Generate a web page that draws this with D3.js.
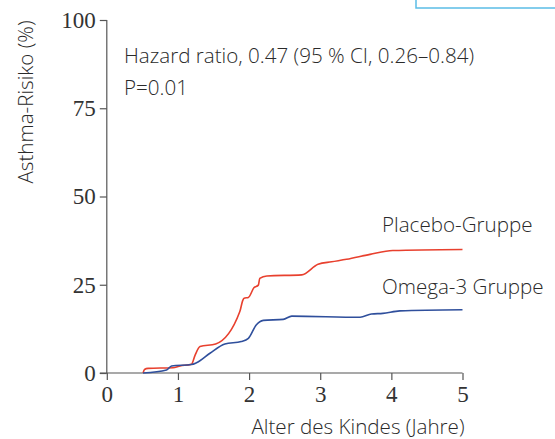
<!DOCTYPE html>
<html><head><meta charset="utf-8">
<script src="https://cdn.jsdelivr.net/npm/d3@7"></script>
<style>
body{margin:0;background:#fff;}
svg{display:block;}
.sans{font-family:"Open Sans","Noto Sans",sans-serif;font-weight:300;fill:#2a2a2a;}
.serif{font-family:"Liberation Serif","DejaVu Serif",serif;fill:#333;}
</style></head>
<body>
<script>
// Data (years, percent)
const placeboT = [0.51,0.53,0.58,0.93,1.03,1.19,1.24,1.31,1.53,1.87,1.91,1.93,1.99,2.07,2.13,2.15,2.25,2.74,2.97,3.16,3.37,3.70,4.02,5.0];
const placeboV = [0,1.0,1.3,1.5,2.0,2.5,5.0,7.5,8.2,17.4,20.5,21.2,21.4,24.2,24.9,26.8,27.5,27.8,30.8,31.5,32.2,33.6,34.7,35.0];
const omegaT = [0.51,0.84,0.91,1.19,1.26,1.45,1.66,1.89,1.99,2.1,2.2,2.48,2.6,3.56,3.72,3.88,4.12,5.0];
const omegaV = [0,0.85,2.0,2.4,2.9,5.6,8.2,8.9,9.8,13.6,14.9,15.2,16.1,15.8,16.7,16.9,17.6,17.9];
const xTicks = [0,1,2,3,4,5];
const yTicks = [0,25,50,75,100];
const seriesNames = ["Placebo-Gruppe","Omega-3 Gruppe"];

const W=555,H=439;
const svg=d3.select("body").append("svg").attr("width",W).attr("height",H);
const x=d3.scaleLinear().domain([0,5]).range([106.8,462.5]);
const y=d3.scaleLinear().domain([0,100]).range([373,20]);

// decorative frame at top right
svg.append("rect").attr("x",416).attr("y",-10).attr("width",160).attr("height",18)
  .attr("fill","none").attr("stroke","#5bbde6").attr("stroke-width",1.5);

// axes
const gx=svg.append("g").attr("transform",`translate(0,${y(0)})`)
  .call(d3.axisBottom(x).tickValues(xTicks).tickSize(7).tickPadding(6).tickFormat(d3.format("d")));
const gy=svg.append("g").attr("transform",`translate(${x(0)},0)`)
  .call(d3.axisLeft(y).tickValues(yTicks).tickSize(7).tickPadding(4).tickFormat(d3.format("d")));
[gx,gy].forEach(g=>{
  g.select(".domain").attr("stroke","#555").attr("stroke-width",1.2);
  g.selectAll(".tick line").attr("stroke","#555").attr("stroke-width",1.2);
  g.selectAll(".tick text").attr("class","serif").style("font-size","23px").attr("fill","#333");
});
gx.select(".domain").attr("d",`M${x(0)-7},0H${x(5)}`);
gy.select(".domain").attr("d",`M0,${y(0)}V${y(100)}`);

const line=d3.line().x(d=>x(d[0])).y(d=>y(d[1])).curve(d3.curveMonotoneX);
svg.append("path").datum(placeboT.map((t,i)=>[t,placeboV[i]]))
  .attr("d",line).attr("fill","none").attr("stroke","#e8402e").attr("stroke-width",1.6);
svg.append("path").datum(omegaT.map((t,i)=>[t,omegaV[i]]))
  .attr("d",line).attr("fill","none").attr("stroke","#2f4f9c").attr("stroke-width",1.6);

// texts
const fs="20.6px";
svg.append("text").attr("class","sans").attr("x",124).attr("y",63).style("font-size",fs)
  .text("Hazard ratio, 0.47 (95 % CI, 0.26–0.84)");
svg.append("text").attr("class","sans").attr("x",124).attr("y",95).style("font-size",fs).text("P=0.01");
svg.append("text").attr("class","sans").attr("x",382).attr("y",232).style("font-size",fs).text(seriesNames[0]);
svg.append("text").attr("class","sans").attr("x",382).attr("y",294).style("font-size",fs).text(seriesNames[1]);
svg.append("text").attr("class","sans").attr("x",358).attr("y",434).attr("text-anchor","middle").style("font-size",fs)
  .text("Alter des Kindes (Jahre)");
svg.append("text").attr("class","sans").attr("transform","translate(33,102) rotate(-90)").attr("text-anchor","middle")
  .style("font-size",fs).text("Asthma-Risiko (%)");
</script>
</body></html>
